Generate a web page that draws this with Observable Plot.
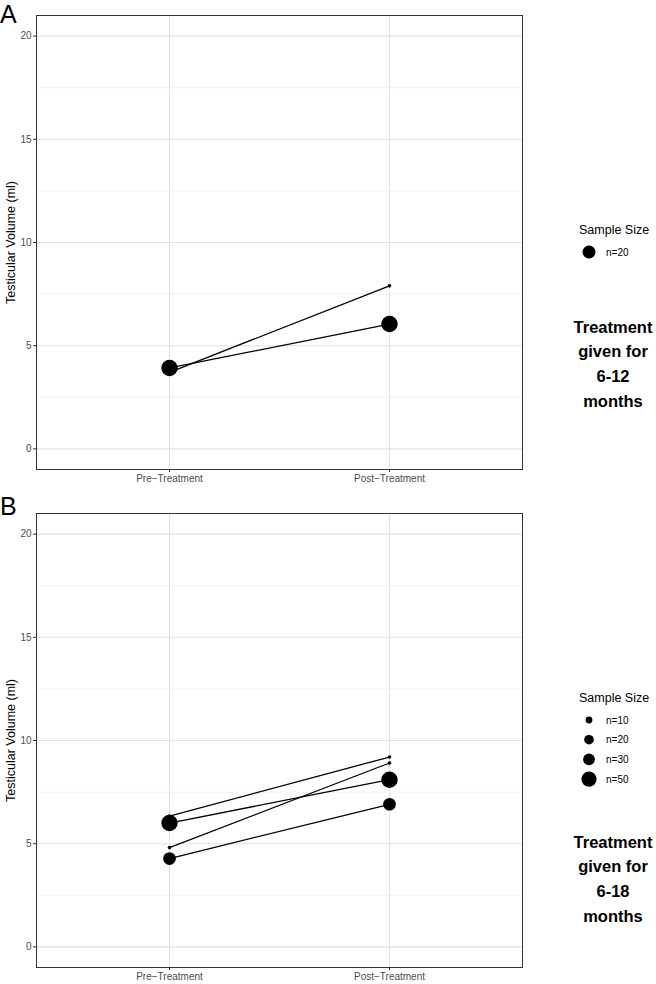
<!DOCTYPE html>
<html><head><meta charset="utf-8">
<script src="https://cdn.jsdelivr.net/npm/d3@7"></script>
<script src="https://cdn.jsdelivr.net/npm/@observablehq/plot@0.6"></script>
<style>
body{margin:0;background:#fff;font-family:"Liberation Sans",Arial,sans-serif;}
#root{position:relative;width:656px;height:984px;overflow:hidden;background:#fff}
#root > svg.plotsvg{position:absolute;left:0}
#overlay{position:absolute;left:0;top:0}
</style></head>
<body><div id="root"></div>
<script>
// ---- data ----
const categories = ["Pre−Treatment", "Post−Treatment"];
const yTicks = [0, 5, 10, 15, 20];
const yMinor = [2.5, 7.5, 12.5, 17.5];
const yLabel = "Testicular Volume (ml)";

// Panel A (6-12 months)
const preA  = [3.92, 3.71];
const postA = [6.05, 7.90];
const nA    = [20, null];
const legendA = [20];
const noteA = ["Treatment", "given for", "6-12", "months"];

// Panel B (6-18 months)
const preB  = [6.34, 6.00, 4.81, 4.28];
const postB = [9.20, 8.10, 8.91, 6.91];
const nB    = [null, 50, null, 30];
const legendB = [10, 20, 30, 50];
const noteB = ["Treatment", "given for", "6-18", "months"];

const legendTitle = "Sample Size";

const root = document.getElementById("root");

function panel(pre, post, n, rmax, top, mt, mb) {
  const pairs = pre.map((p, i) => ({pre: p, post: post[i], n: n[i]}));
  const pts = pairs.flatMap(d => [
    {x: categories[0], y: d.pre, n: d.n},
    {x: categories[1], y: d.post, n: d.n}
  ]);
  const svg = Plot.plot({
    width: 530, height: 492,
    marginLeft: 36, marginRight: 8, marginTop: mt, marginBottom: mb,
    style: {fontFamily: "Liberation Sans, Arial, sans-serif", fontSize: "10px", background: "transparent", overflow: "visible"},
    x: {type: "point", domain: categories, padding: 0.6, label: null},
    y: {domain: [-1, 21], label: null},
    r: {type: "sqrt", domain: [0, rmax], range: [0, 8.2]},
    marks: [
      Plot.ruleY(yMinor, {stroke: "#efefef", strokeWidth: 0.8}),
      Plot.ruleY(yTicks, {stroke: "#e2e2e2", strokeWidth: 1.1}),
      Plot.ruleX(categories, {stroke: "#e2e2e2", strokeWidth: 1.1}),
      Plot.link(pairs, {x1: () => categories[0], y1: "pre", x2: () => categories[1], y2: "post", stroke: "black", strokeWidth: 1.3}),
      Plot.dot(pts.filter(d => d.n == null), {x: "x", y: "y", r: 1.8, fill: "black"}),
      Plot.dot(pts.filter(d => d.n != null), {x: "x", y: "y", r: "n", fill: "black"}),
      Plot.frame({stroke: "#333", strokeWidth: 1}),
      Plot.axisY(yTicks, {tickSize: 3, tickPadding: 2, fill: "#4d4d4d", stroke: "#333", label: null, fontSize: 10}),
      Plot.axisX(categories, {tickSize: 3, tickPadding: 2, fill: "#4d4d4d", stroke: "#333", label: null, fontSize: 10}),
      Plot.text([yLabel], {frameAnchor: "left", rotate: -90, dx: -26, textAnchor: "middle", lineAnchor: "middle", fontSize: 12.5, fill: "#000"})
    ]
  });
  svg.classList.add("plotsvg");
  svg.style.top = top + "px";
  root.appendChild(svg);
}

panel(preA, postA, nA, 20, 0, 15, 23);
panel(preB, postB, nB, 50, 492, 21, 17);

// ---- overlay: panel letters, legends, notes ----
const ov = d3.select(root).append("svg").attr("id", "overlay")
  .attr("width", 656).attr("height", 984)
  .style("font-family", "Liberation Sans, Arial, sans-serif");

ov.append("text").attr("x", 0).attr("y", 23).attr("font-size", 25).text("A");
ov.append("text").attr("x", 0).attr("y", 515).attr("font-size", 25).text("B");

function legend(values, rScale, titleY, firstY, step) {
  ov.append("text").attr("x", 579).attr("y", titleY).attr("dy", "0.35em")
    .attr("font-size", 12.5).text(legendTitle);
  values.forEach((v, i) => {
    const y = firstY + i * step;
    ov.append("circle").attr("cx", 589).attr("cy", y).attr("r", rScale(v)).attr("fill", "black");
    ov.append("text").attr("x", 606).attr("y", y).attr("dy", "0.35em")
      .attr("font-size", 10).text("n=" + v);
  });
}
legend(legendA, d3.scaleSqrt().domain([0, 20]).range([0, 6.5]), 230, 252, 19.7);
legend(legendB, d3.scaleSqrt().domain([0, 50]).range([0, 7.6]), 698, 720, 19.7);

function note(lines, y0) {
  lines.forEach((t, i) => {
    ov.append("text").attr("x", 613).attr("y", y0 + i * 24.7).attr("dy", "0.35em")
      .attr("text-anchor", "middle").attr("font-size", 16.5).attr("font-weight", "bold").text(t);
  });
}
note(noteA, 327);
note(noteB, 842);
</script>
</body></html>
